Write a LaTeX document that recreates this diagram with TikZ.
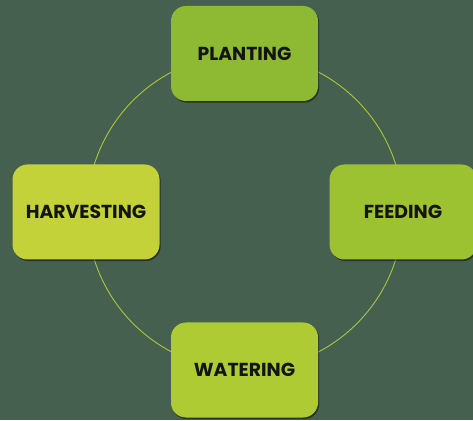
\documentclass[tikz,border=0pt]{standalone}
\usepackage{fontspec}
\setmainfont{Poppins}
\usetikzlibrary{shadows}
\definecolor{bg}{HTML}{46604F}
\definecolor{ring}{HTML}{A9C83A}
\definecolor{cTop}{HTML}{8DBA32}
\definecolor{cRight}{HTML}{9DC231}
\definecolor{cBottom}{HTML}{AECB33}
\definecolor{cLeft}{HTML}{C3D238}
\tikzset{
  stagebox/.style={draw=none, rounded corners=15pt, minimum width=147pt, minimum height=95pt,
    inner sep=0pt, font=\bfseries\fontsize{18.8}{22}\selectfont, text=black!92,
    drop shadow={shadow xshift=1.2pt, shadow yshift=-1.6pt, opacity=0.45, fill=black}},
}
\begin{document}
\begin{tikzpicture}[x=1pt,y=1pt]
\fill[bg] (0,0) rectangle (473,420);
\useasboundingbox (0,0) rectangle (473,420);
\coordinate (c) at (245,208);
\draw[ring, line width=0.9pt] (c) circle[radius=158];
\node[stagebox, fill=cTop] (planting) at (244.5,366.5) {PLANTING};
\node[stagebox, fill=cRight] (feeding) at (403,208) {FEEDING};
\node[stagebox, fill=cBottom] (watering) at (244.5,50) {WATERING};
\node[stagebox, fill=cLeft] (harvesting) at (86,208) {HARVESTING};
\end{tikzpicture}
\end{document}
